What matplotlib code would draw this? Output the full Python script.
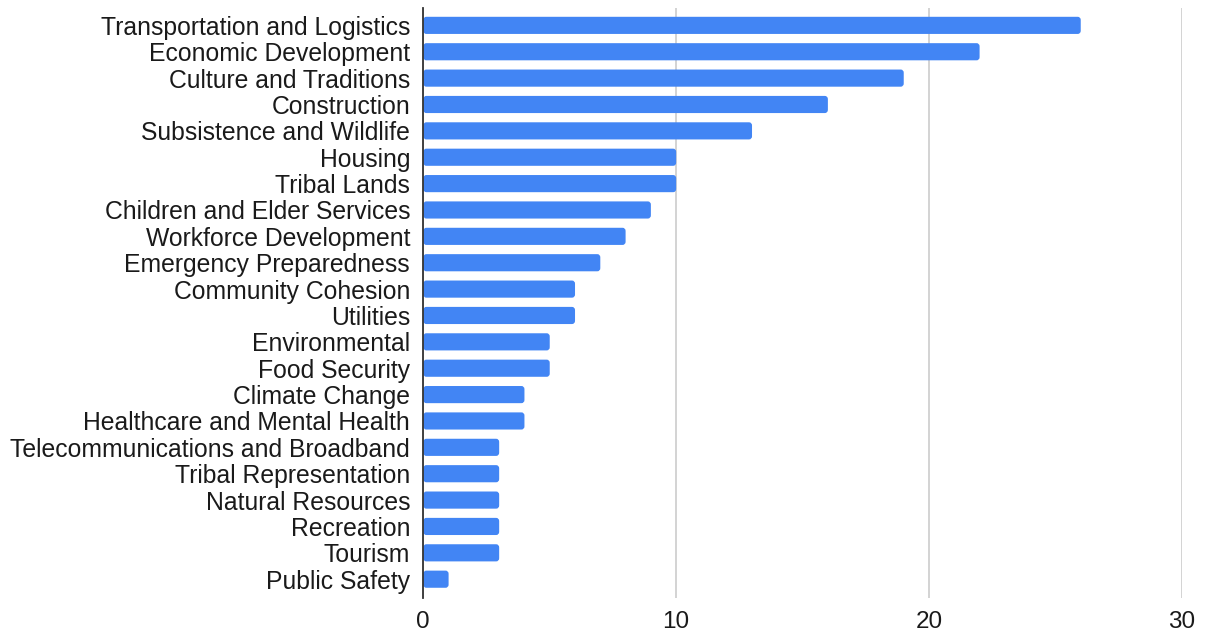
import matplotlib
matplotlib.use("Agg")
import matplotlib.pyplot as plt
from matplotlib.patches import FancyBboxPatch

categories = [
    "Transportation and Logistics", "Economic Development", "Culture and Traditions",
    "Construction", "Subsistence and Wildlife", "Housing", "Tribal Lands",
    "Children and Elder Services", "Workforce Development", "Emergency Preparedness",
    "Community Cohesion", "Utilities", "Environmental", "Food Security",
    "Climate Change", "Healthcare and Mental Health", "Telecommunications and Broadband",
    "Tribal Representation", "Natural Resources", "Recreation", "Tourism", "Public Safety",
]
counts = [26, 22, 19, 16, 13, 10, 10, 9, 8, 7, 6, 6, 5, 5, 4, 4, 3, 3, 3, 3, 3, 1]
x_ticks = [0, 10, 20, 30]

plt.rcParams["font.family"] = ["Liberation Sans", "DejaVu Sans"]

fig = plt.figure(figsize=(12.06, 6.33), dpi=100)
ax = fig.add_axes([0.351, 0.055, 0.629, 0.932])

ypos = list(range(len(categories)))
bars = ax.barh(ypos, counts, height=0.65, color="#4285F4", zorder=3)

# swap the plain rectangles for slightly rounded ones of the same geometry
for rect in bars.patches:
    x, y = rect.get_xy()
    rounded = FancyBboxPatch(
        (x, y), rect.get_width(), rect.get_height(),
        boxstyle="round,pad=0,rounding_size=0.12",
        facecolor="#4285F4", edgecolor="none", zorder=3,
    )
    ax.add_patch(rounded)
    rect.set_visible(False)

ax.set_xlim(0, 30)
ax.set_ylim(len(categories) - 0.28, -0.65)
ax.set_yticks(ypos)
ax.set_yticklabels(categories, fontsize=17.8, color="#1a1a1a")
ax.set_xticks(x_ticks)
ax.set_xticklabels([str(t) for t in x_ticks], fontsize=17.5, color="#1a1a1a")
ax.tick_params(axis="both", length=0)
ax.tick_params(axis="y", pad=9.5)
ax.tick_params(axis="x", pad=9)

ax.grid(axis="x", color="#cccccc", linewidth=1.2, zorder=0)
for side in ("top", "right", "bottom"):
    ax.spines[side].set_visible(False)
ax.spines["left"].set_color("#333333")
ax.spines["left"].set_linewidth(1.3)
ax.spines["left"].set_zorder(4)

fig.savefig("out.png", dpi=100, facecolor="white")
